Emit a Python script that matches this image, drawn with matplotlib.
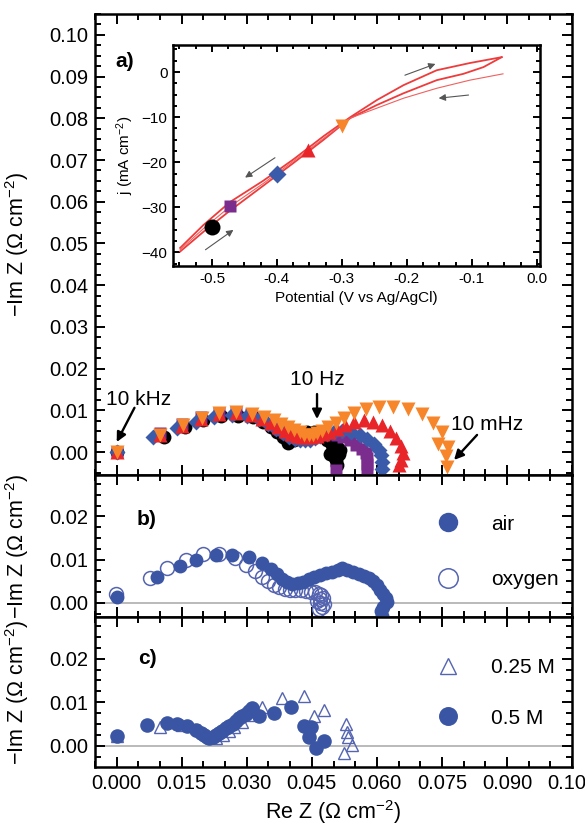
import matplotlib
matplotlib.use('Agg')
import matplotlib.pyplot as plt
from matplotlib.ticker import MultipleLocator, FormatStrFormatter

plt.rcParams['font.family'] = ['Liberation Sans', 'DejaVu Sans']
plt.rcParams['mathtext.default'] = 'regular'
plt.rcParams['axes.unicode_minus'] = True

# ---------------- data: panel a (Nyquist, five potentials) ----------------
blk_x = [0.0, 0.0110, 0.0158, 0.0200, 0.0240, 0.0280, 0.0315, 0.0338, 0.0355, 0.0370, 0.0383,
         0.0395, 0.0410, 0.0425, 0.0440, 0.0455, 0.0470, 0.0485, 0.0497, 0.0508, 0.0515, 0.0512,
         0.0500, 0.0492, 0.0505, 0.0508]
blk_y = [0.0, 0.0036, 0.0060, 0.0076, 0.0086, 0.0087, 0.0083, 0.0072, 0.0060, 0.0047, 0.0036,
         0.0022, 0.0030, 0.0042, 0.0048, 0.0047, 0.0040, 0.0028, 0.0018, 0.0012, 0.0005, -0.0005,
         -0.0010, -0.0005, -0.0020, -0.0030]

pur_x = [0.0, 0.0099, 0.0150, 0.0195, 0.0235, 0.0275, 0.0310, 0.0335, 0.0357, 0.0375, 0.0391,
         0.0405, 0.0418, 0.0430, 0.0441, 0.0452, 0.0464, 0.0478, 0.0493, 0.0508, 0.0522, 0.0538,
         0.0553, 0.0566, 0.0574, 0.0577, 0.0578, 0.0578, 0.0506]
pur_y = [0.0, 0.0045, 0.0068, 0.0084, 0.0094, 0.0096, 0.0091, 0.0080, 0.0068, 0.0056, 0.0046,
         0.0039, 0.0034, 0.0032, 0.0033, 0.0036, 0.0040, 0.0043, 0.0044, 0.0042, 0.0036, 0.0028,
         0.0018, 0.0008, -0.0003, -0.0015, -0.0028, -0.0042, -0.0044]

blu_x = [0.0, 0.0083, 0.0138, 0.0184, 0.0225, 0.0265, 0.0300, 0.0328, 0.0350, 0.0368, 0.0384,
         0.0398, 0.0411, 0.0423, 0.0434, 0.0445, 0.0457, 0.0470, 0.0485, 0.0502, 0.0520, 0.0540,
         0.0560, 0.0578, 0.0593, 0.0604, 0.0610, 0.0612, 0.0612]
blu_y = [0.0, 0.0036, 0.0058, 0.0073, 0.0084, 0.0088, 0.0086, 0.0078, 0.0066, 0.0055, 0.0045,
         0.0037, 0.0031, 0.0028, 0.0028, 0.0030, 0.0034, 0.0039, 0.0044, 0.0049, 0.0051, 0.0049,
         0.0042, 0.0032, 0.0019, 0.0006, -0.0008, -0.0025, -0.0040]

red_x = [0.0, 0.0100, 0.0150, 0.0195, 0.0235, 0.0275, 0.0310, 0.0335, 0.0355, 0.0372, 0.0388,
         0.0402, 0.0415, 0.0427, 0.0438, 0.0449, 0.0461, 0.0475, 0.0490, 0.0508, 0.0527, 0.0548,
         0.0570, 0.0592, 0.0612, 0.0630, 0.0645, 0.0656, 0.0660, 0.0655, 0.0650]
red_y = [0.0, 0.0040, 0.0063, 0.0080, 0.0091, 0.0093, 0.0089, 0.0080, 0.0070, 0.0060, 0.0051,
         0.0044, 0.0039, 0.0036, 0.0035, 0.0036, 0.0039, 0.0043, 0.0049, 0.0056, 0.0064, 0.0072,
         0.0076, 0.0073, 0.0064, 0.0050, 0.0033, 0.0015, -0.0003, -0.0018, -0.0030]

org_x = [0.0, 0.0099, 0.0152, 0.0196, 0.0237, 0.0276, 0.0313, 0.0340, 0.0362, 0.0380, 0.0396,
         0.0410, 0.0422, 0.0433, 0.0443, 0.0452, 0.0462, 0.0474, 0.0488, 0.0505, 0.0525, 0.0548,
         0.0575, 0.0605, 0.0638, 0.0672, 0.0703, 0.0730, 0.0750, 0.0740, 0.0763, 0.0760, 0.0762]
org_y = [0.0, 0.0041, 0.0065, 0.0082, 0.0094, 0.0095, 0.0092, 0.0085, 0.0076, 0.0067, 0.0059,
         0.0052, 0.0047, 0.0042, 0.0040, 0.0041, 0.0045, 0.0051, 0.0060, 0.0070, 0.0082, 0.0094,
         0.0103, 0.0108, 0.0108, 0.0102, 0.0090, 0.0070, 0.0048, 0.0020, 0.0012, -0.0010, -0.0035]

# ---------------- data: inset (cyclic voltammogram) ----------------
cv1_E = [-0.549, -0.513, -0.472, -0.421, -0.374, -0.328, -0.287, -0.246, -0.205, -0.154, -0.103, -0.054]
cv1_j = [-39.0, -33.9, -28.8, -24.1, -19.3, -14.2, -10.0, -6.2, -2.9, 0.4, 2.0, 3.3]
cv2_E = [-0.054, -0.082, -0.113, -0.154, -0.205, -0.246, -0.287, -0.328, -0.374, -0.421, -0.472, -0.513, -0.549]
cv2_j = [3.3, 1.1, -0.4, -1.8, -4.7, -7.3, -10.2, -15.0, -20.1, -25.2, -30.7, -35.4, -39.8]
cv3_E = [-0.052, -0.103, -0.154, -0.205, -0.246, -0.287, -0.328, -0.374, -0.421, -0.472, -0.513, -0.549]
cv3_j = [-0.4, -1.8, -3.6, -5.8, -8.0, -10.2, -14.7, -19.7, -24.7, -29.8, -34.7, -39.4]
cv_pt_E = [-0.500, -0.472, -0.400, -0.352, -0.300]
cv_pt_j = [-34.3, -29.7, -22.6, -17.3, -12.0]

# ---------------- data: panel b (air vs oxygen) ----------------
air_x = [0.0000, 0.0094, 0.0145, 0.0183, 0.0229, 0.0267, 0.0306, 0.0336, 0.0356, 0.0370, 0.0382,
         0.0392, 0.0405, 0.0418, 0.0430, 0.0443, 0.0456, 0.0470, 0.0483, 0.0497, 0.0510, 0.0520,
         0.0532, 0.0545, 0.0558, 0.0570, 0.0582, 0.0592, 0.0600, 0.0608, 0.0615, 0.0621, 0.0623,
         0.0615, 0.0610, 0.0612]
air_y = [0.0013, 0.0060, 0.0084, 0.0100, 0.0111, 0.0111, 0.0105, 0.0093, 0.0079, 0.0067, 0.0056,
         0.0049, 0.0044, 0.0045, 0.0049, 0.0054, 0.0059, 0.0064, 0.0068, 0.0072, 0.0077, 0.0080,
         0.0076, 0.0071, 0.0067, 0.0062, 0.0057, 0.0050, 0.0040, 0.0030, 0.0020, 0.0010, 0.0001,
         -0.0010, -0.0020, -0.0030]
oxy_x = [-0.0002, 0.0076, 0.0117, 0.0160, 0.0198, 0.0237, 0.0272, 0.0299, 0.0318, 0.0336, 0.0350,
         0.0362, 0.0375, 0.0388, 0.0400, 0.0412, 0.0424, 0.0436, 0.0447, 0.0458, 0.0466, 0.0472,
         0.0476, 0.0470, 0.0463, 0.0468, 0.0478, 0.0474, 0.0466]
oxy_y = [0.0020, 0.0058, 0.0081, 0.0100, 0.0112, 0.0112, 0.0104, 0.0088, 0.0073, 0.0059, 0.0050,
         0.0042, 0.0036, 0.0032, 0.0030, 0.0030, 0.0029, 0.0028, 0.0026, 0.0024, 0.0021, 0.0017,
         0.0012, 0.0008, 0.0004, 0.0000, -0.0004, -0.0009, -0.0015]

# ---------------- data: panel c (0.25 M vs 0.5 M) ----------------
m05_x = [0.0000, 0.0071, 0.0115, 0.0140, 0.0163, 0.0184, 0.0194, 0.0202, 0.0208, 0.0214, 0.0222,
         0.0230, 0.0237, 0.0244, 0.0252, 0.0260, 0.0268, 0.0276, 0.0283, 0.0290, 0.0298, 0.0306,
         0.0313, 0.0329, 0.0363, 0.0402, 0.0432, 0.0448, 0.0444, 0.0460, 0.0478]
m05_y = [0.0022, 0.0048, 0.0052, 0.0050, 0.0045, 0.0036, 0.0030, 0.0024, 0.0020, 0.0018, 0.0020,
         0.0024, 0.0029, 0.0034, 0.0040, 0.0045, 0.0051, 0.0057, 0.0063, 0.0068, 0.0073, 0.0079,
         0.0086, 0.0068, 0.0076, 0.0088, 0.0045, 0.0042, 0.0020, -0.0005, 0.0010]
m025_x = [0.0000, 0.0099, 0.0150, 0.0190, 0.0215, 0.0230, 0.0245, 0.0258, 0.0271, 0.0290, 0.0310,
          0.0336, 0.0382, 0.0432, 0.0456, 0.0478, 0.0529, 0.0532, 0.0534, 0.0543, 0.0524]
m025_y = [0.0022, 0.0043, 0.0048, 0.0036, 0.0020, 0.0018, 0.0025, 0.0033, 0.0043, 0.0055, 0.0070,
          0.0090, 0.0110, 0.0114, 0.0069, 0.0081, 0.0050, 0.0031, 0.0021, 0.0002, -0.0017]

BLACK = '#000000'
PURPLE = '#7B2D8E'
BLUE = '#3A5BA9'
RED = '#E8262A'
ORANGE = '#F7862A'
DBLUE = '#3A55A4'
LBLUE = '#5564B0'

TL = 14.5   # tick label size
LB = 15.5   # axis label size
TX = 15     # annotation / legend text size

fig = plt.figure(figsize=(5.85, 8.33), dpi=100)
axA = fig.add_axes([0.1624, 0.4298, 0.8154, 0.5534])
axB = fig.add_axes([0.1624, 0.2593, 0.8154, 0.1705], sharex=axA)
axC = fig.add_axes([0.1624, 0.0792, 0.8154, 0.1801], sharex=axA)


def style(ax, lab=TL, spw=1.8, pad=5):
    for s in ax.spines.values():
        s.set_linewidth(spw)
    ax.tick_params(which='both', direction='in', top=True, right=True, width=1.4,
                   labelsize=lab, colors='black', pad=pad)
    ax.tick_params(which='major', length=7)
    ax.tick_params(which='minor', length=4)


for ax in (axA, axB, axC):
    style(ax)
    ax.xaxis.set_major_locator(MultipleLocator(0.015))
    ax.xaxis.set_minor_locator(MultipleLocator(0.005))

axA.set_xlim(-0.005, 0.105)

# ---- panel a
ms = 10
axA.plot(blk_x, blk_y, 'o', color=BLACK, ms=ms, mec='none', zorder=3)
axA.plot(pur_x, pur_y, 's', color=PURPLE, ms=ms * 0.85, mec='none', zorder=4)
axA.plot(blu_x, blu_y, 'D', color=BLUE, ms=ms * 0.78, mec='none', zorder=5)
axA.plot(red_x, red_y, '^', color=RED, ms=ms, mec='none', zorder=6)
axA.plot(org_x, org_y, 'v', color=ORANGE, ms=ms, mec='none', zorder=7)
axA.set_ylim(-0.0055, 0.105)
axA.yaxis.set_major_locator(MultipleLocator(0.01))
axA.yaxis.set_minor_locator(MultipleLocator(0.0025))
axA.yaxis.set_major_formatter(FormatStrFormatter('%.2f'))
axA.tick_params(labelbottom=False)
axA.set_ylabel('\u2212Im Z (\u03a9 cm$^{-2}$)', fontsize=LB)
axA.yaxis.set_label_coords(-0.135, 0.5)
axA.text(0.042, 0.896, 'a)', transform=axA.transAxes, fontsize=TX, fontweight='bold', va='center')

arr = dict(arrowstyle='-|>', color='black', lw=1.7, mutation_scale=14, shrinkA=0, shrinkB=0)
axA.text(0.0051, 0.0125, '10 kHz', fontsize=TX, ha='center', va='center')
axA.annotate('', xy=(0.0, 0.0024), xytext=(0.0041, 0.0106), arrowprops=arr)
axA.text(0.0462, 0.0173, '10 Hz', fontsize=TX, ha='center', va='center')
axA.annotate('', xy=(0.0462, 0.0079), xytext=(0.0462, 0.0139), arrowprops=arr)
axA.text(0.0854, 0.0065, '10 mHz', fontsize=TX, ha='center', va='center')
axA.annotate('', xy=(0.0778, -0.0019), xytext=(0.0831, 0.0041), arrowprops=arr)

# ---- inset
axI = fig.add_axes([0.2957, 0.6807, 0.6274, 0.2653])
style(axI, lab=11, spw=1.8, pad=4)
axI.tick_params(which='major', length=5)
axI.tick_params(which='minor', length=3)
axI.plot(cv1_E, cv1_j, color='#EE3B3B', lw=1.3)
axI.plot(cv2_E, cv2_j, color='#EE3B3B', lw=1.3)
axI.plot(cv3_E, cv3_j, color='#F06060', lw=0.8)
mk = ['o', 's', 'D', '^', 'v']
cols = [BLACK, PURPLE, BLUE, RED, ORANGE]
sizes = [11.5, 9, 9.5, 10.5, 10.5]
for E, j, m, c, s in zip(cv_pt_E, cv_pt_j, mk, cols, sizes):
    axI.plot([E], [j], marker=m, color=c, ms=s, mec='none', ls='none', zorder=5)
axI.set_xlim(-0.56, 0.005)
axI.set_ylim(-43, 6)
axI.xaxis.set_major_locator(MultipleLocator(0.1))
axI.xaxis.set_minor_locator(MultipleLocator(0.025))
axI.yaxis.set_major_locator(MultipleLocator(10))
axI.yaxis.set_minor_locator(MultipleLocator(2.5))
axI.xaxis.set_major_formatter(FormatStrFormatter('%.1f'))
axI.set_xlabel('Potential (V vs Ag/AgCl)', fontsize=11)
axI.set_ylabel('j (mA cm$^{-2}$)', fontsize=11)
iarr = dict(arrowstyle='-|>', color='#555555', lw=0.8, mutation_scale=10, shrinkA=0, shrinkB=0)
axI.annotate('', xy=(-0.156, 1.8), xytext=(-0.203, -0.7), arrowprops=iarr)
axI.annotate('', xy=(-0.151, -5.8), xytext=(-0.105, -5.1), arrowprops=iarr)
axI.annotate('', xy=(-0.449, -23.4), xytext=(-0.403, -19.0), arrowprops=iarr)
axI.annotate('', xy=(-0.467, -35.0), xytext=(-0.510, -39.4), arrowprops=iarr)

# ---- panel b
axB.axhline(0, color='#b4b4b4', lw=1.3, zorder=1)
axB.plot(oxy_x, oxy_y, 'o', mfc='none', mec=LBLUE, mew=1.1, ms=10, label='oxygen', zorder=2)
axB.plot(air_x, air_y, 'o', color=DBLUE, mec='none', ms=10, label='air', zorder=3)
axB.set_ylim(-0.0033, 0.0296)
axB.yaxis.set_major_locator(MultipleLocator(0.01))
axB.yaxis.set_minor_locator(MultipleLocator(0.0025))
axB.yaxis.set_major_formatter(FormatStrFormatter('%.2f'))
axB.tick_params(labelbottom=False)
axB.set_ylabel('\u2212Im Z (\u03a9 cm$^{-2}$)', fontsize=LB)
axB.yaxis.set_label_coords(-0.135, 0.5)
axB.text(0.088, 0.688, 'b)', transform=axB.transAxes, fontsize=TX, fontweight='bold', va='center')
h, l = axB.get_legend_handles_labels()
axB.legend([h[1], h[0]], [l[1], l[0]], loc='upper left', bbox_to_anchor=(0.70, 0.78),
           frameon=False, handlelength=1.0, handletextpad=1.6, labelspacing=1.75,
           markerscale=1.4, fontsize=TX, borderaxespad=0)

# ---- panel c
axC.axhline(0, color='#b4b4b4', lw=1.3, zorder=1)
axC.plot(m025_x, m025_y, '^', mfc='none', mec=LBLUE, mew=1.0, ms=8.5, label='0.25 M', zorder=2)
axC.plot(m05_x, m05_y, 'o', color=DBLUE, mec='none', ms=10.5, label='0.5 M', zorder=3)
axC.set_ylim(-0.0049, 0.0296)
axC.yaxis.set_major_locator(MultipleLocator(0.01))
axC.yaxis.set_minor_locator(MultipleLocator(0.0025))
axC.yaxis.set_major_formatter(FormatStrFormatter('%.2f'))
axC.xaxis.set_major_formatter(FormatStrFormatter('%.3f'))
axC.set_ylabel('\u2212Im Z (\u03a9 cm$^{-2}$)', fontsize=LB)
axC.yaxis.set_label_coords(-0.135, 0.5)
axC.set_xlabel('Re Z (\u03a9 cm$^{-2}$)', fontsize=LB)
axC.text(0.09, 0.724, 'c)', transform=axC.transAxes, fontsize=TX, fontweight='bold', va='center')
axC.legend(loc='upper left', bbox_to_anchor=(0.70, 0.78), frameon=False, handlelength=1.0,
           handletextpad=1.6, labelspacing=1.5, markerscale=1.3, fontsize=TX, borderaxespad=0)

fig.savefig('out.png', dpi=100)
